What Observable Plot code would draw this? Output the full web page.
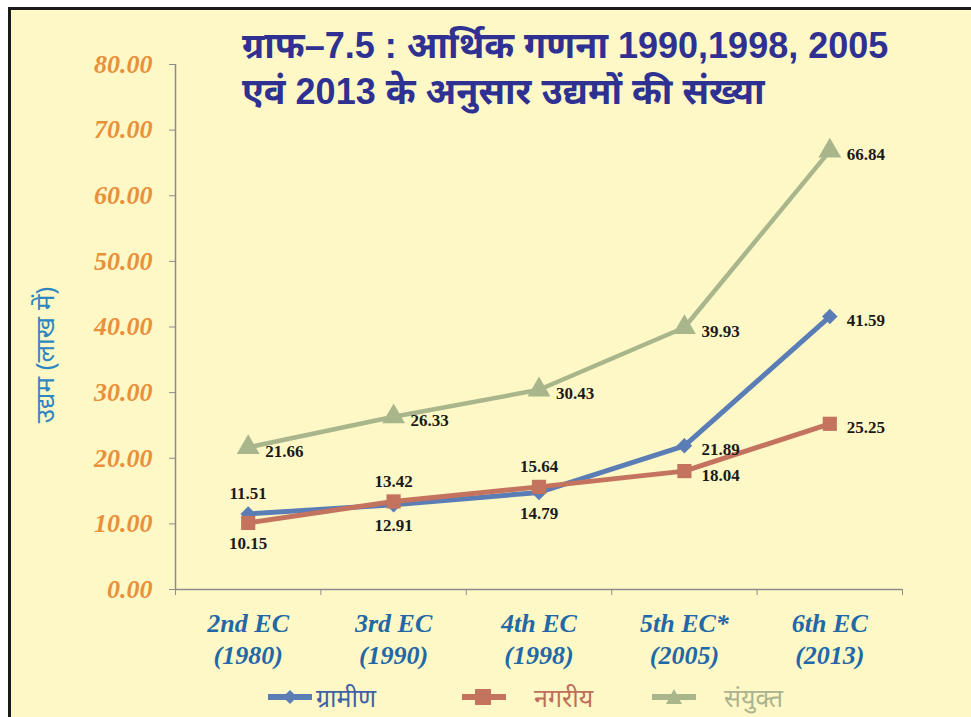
<!DOCTYPE html>
<html>
<head>
<meta charset="utf-8">
<script src="https://cdn.jsdelivr.net/npm/d3@7"></script>
<script src="https://cdn.jsdelivr.net/npm/@observablehq/plot@0.6"></script>
<style>
  html, body { margin: 0; padding: 0; background: #ffffff; }
  #wrap { position: relative; width: 971px; height: 717px; overflow: hidden; background: #ffffff; }
  #panel { position: absolute; left: 8px; top: 7px; right: 0; bottom: 0; background: #FEF8C6;
           border-left: 3px solid #1a1a1a; border-top: 3px solid #1a1a1a; }
  #chart { position: absolute; left: 0; top: 0; }
  #title { position: absolute; left: 242px; top: 23px; color: #2E3192; font-family: "Liberation Sans Narrow", "Liberation Sans", "Noto Sans", sans-serif;
           font-size: 36px; line-height: 46px; font-weight: bold; white-space: nowrap; }
  #ylabel { position: absolute; left: 44px; top: 355px; transform: translate(-50%, -50%) rotate(-90deg); color: #2E86C1;
            font-family: "Noto Sans", sans-serif; font-size: 26px; white-space: nowrap; }
  #legend { position: absolute; left: 0; top: 679px; width: 971px; height: 36px; }
  .leg { position: absolute; top: 0; display: flex; align-items: center; height: 36px; font-family: "Noto Sans", sans-serif; font-size: 25px; }
</style>
</head>
<body>
<div id="wrap">
  <div id="panel"></div>
  <div id="chart"></div>
  <div id="title">ग्राफ–7.5 : आर्थिक गणना 1990,1998, 2005<br>एवं 2013 के अनुसार उद्यमों की संख्या</div>
  <div id="ylabel">उद्यम (लाख में)</div>
  <div id="legend"></div>
</div>
<script>
// ---- data ----
const categories = ["2nd EC\n(1980)", "3rd EC\n(1990)", "4th EC\n(1998)", "5th EC*\n(2005)", "6th EC\n(2013)"];
const seriesNames = ["ग्रामीण", "नगरीय", "संयुक्त"];
const rural = [11.51, 12.91, 14.79, 21.89, 41.59];
const urban = [10.15, 13.42, 15.64, 18.04, 25.25];
const combined = [21.66, 26.33, 30.43, 39.93, 66.84];
const yTicks = [0, 10, 20, 30, 40, 50, 60, 70, 80];

// ---- label placement (style) ----
const ruralLabelPlace = ["top", "bottom", "bottom", "right", "right"];
const urbanLabelPlace = ["bottom", "top", "top", "right", "right"];
const combinedLabelPlace = ["right", "right", "right", "right", "right"];

const seriesStyle = [
  {name: seriesNames[0], values: rural, place: ruralLabelPlace, color: "#5B7DB6", symbol: "diamond2", r: 7, width: 5, legendColor: "#3F62A6"},
  {name: seriesNames[1], values: urban, place: urbanLabelPlace, color: "#C3735E", symbol: "square", r: 8, width: 5, legendColor: "#BE6F5C"},
  {name: seriesNames[2], values: combined, place: combinedLabelPlace, color: "#A9B68C", symbol: "triangle", r: 8.5, width: 4.5, legendColor: "#ABB38F"}
];

const rows = seriesStyle.flatMap(s => s.values.map((v, i) => ({series: s.name, i, pos: i + 0.5, value: v, place: s.place[i]})));

const labelFont = {fontFamily: "Liberation Serif, Times New Roman, serif", fontWeight: "bold", fontSize: 17, fill: "#1a1a1a"};

const marks = [];
// axes
marks.push(Plot.ruleX([0], {y1: 0, y2: 80, stroke: "#8C8C8C", strokeWidth: 1.5}));
marks.push(Plot.ruleY([0], {x1: 0, x2: categories.length, stroke: "#8C8C8C", strokeWidth: 1.5}));
marks.push(Plot.axisY({ticks: yTicks, tickFormat: d => d.toFixed(2), tickSize: 6, tickPadding: 17, stroke: "#8C8C8C",
  fill: "#E8903A", fontSize: 26, fontFamily: "Liberation Serif, Times New Roman, serif", fontWeight: "bold", label: null}));
marks.push(Plot.axisX({ticks: d3.range(0, categories.length + 1), tickFormat: () => "", tickSize: 6, stroke: "#8C8C8C", label: null}));
marks.push(Plot.axisX({ticks: categories.map((c, i) => i + 0.5), tickFormat: d => categories[Math.floor(d)], tickSize: 0, tickPadding: 20,
  fill: "#2368A6", fontSize: 26, fontFamily: "Liberation Serif, Times New Roman, serif", fontWeight: "bold", lineHeight: 1.22, label: null}));

for (const s of seriesStyle) {
  const d = rows.filter(r => r.series === s.name);
  marks.push(Plot.line(d, {x: "pos", y: "value", stroke: s.color, strokeWidth: s.width, strokeLinejoin: "round"}));
}
for (const s of seriesStyle) {
  const d = rows.filter(r => r.series === s.name);
  marks.push(Plot.dot(d, {x: "pos", y: "value", symbol: () => s.symbol, fill: s.color, stroke: "none", r: s.r}));
}
for (const s of seriesStyle) {
  const d = rows.filter(r => r.series === s.name);
  marks.push(Plot.text(d.filter(r => r.place === "right"), {x: "pos", y: "value", text: r => r.value.toFixed(2), textAnchor: "start", dx: 17, dy: 4, ...labelFont}));
  marks.push(Plot.text(d.filter(r => r.place === "top"), {x: "pos", y: "value", text: r => r.value.toFixed(2), textAnchor: "middle", dy: -20, ...labelFont}));
  marks.push(Plot.text(d.filter(r => r.place === "bottom"), {x: "pos", y: "value", text: r => r.value.toFixed(2), textAnchor: "middle", dy: 21, ...labelFont}));
}

const chart = Plot.plot({
  width: 971,
  height: 717,
  marginLeft: 175,
  marginRight: 69,
  marginTop: 64,
  marginBottom: 128,
  style: {background: "transparent", overflow: "visible"},
  x: {type: "linear", domain: [0, categories.length], axis: null},
  y: {type: "linear", domain: [0, 80], axis: null},
  marks
});
d3.select(chart).selectAll('g[aria-label="y-axis tick label"], g[aria-label="x-axis tick label"]').attr("font-style", "italic")
  .selectAll("text").attr("font-style", "italic");
document.getElementById("chart").appendChild(chart);

// legend (HTML), swatches drawn as small svg
const legend = document.getElementById("legend");
const legendX = [268, 462, 652];
const symPaths = {
  "diamond2": "M22,3 L29,10 L22,17 L15,10 Z",
  "square": "M13,2 L29,2 L29,18 L13,18 Z",
  "triangle": "M22,2 L30,17 L14,17 Z"
};
seriesStyle.forEach((s, k) => {
  const item = document.createElement("div");
  item.className = "leg";
  item.style.left = legendX[k] + "px";
  item.style.color = s.legendColor;
  const gap = k === 0 ? 4 : 28;
  item.innerHTML = `<svg width="44" height="20" style="margin-right:${gap}px"><line x1="0" y1="10" x2="44" y2="10" stroke="${s.color}" stroke-width="6"/><path d="${symPaths[s.symbol]}" fill="${s.color}"/></svg><span>${s.name}</span>`;
  legend.appendChild(item);
});
</script>
</body>
</html>
